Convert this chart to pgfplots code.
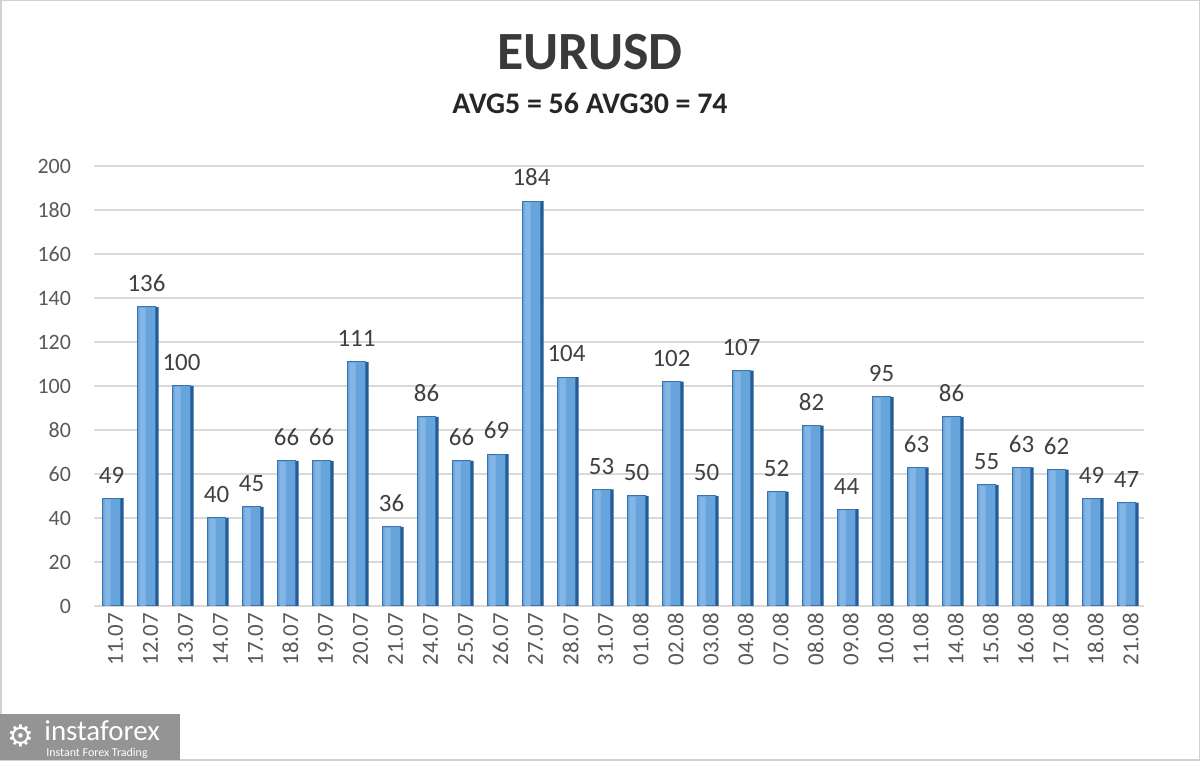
\documentclass[border=0pt]{standalone}
\usepackage{pgfplots}
\pgfplotsset{compat=1.18}
\usepackage{fontspec}
\setmainfont{Carlito}
\newfontfamily\dv{DejaVu Sans}
\definecolor{txt}{HTML}{595959}
\definecolor{lbl}{HTML}{404040}
\definecolor{gridc}{HTML}{D9D9D9}
\definecolor{barM}{HTML}{68A4DC}
\definecolor{barH}{HTML}{90BFEA}
\definecolor{barE}{HTML}{3A74B0}
\definecolor{barS}{HTML}{245C96}
\begin{document}
\begin{tikzpicture}
\begin{scope}[x=0.5bp,y=0.5bp]
\path[use as bounding box] (0,0) rectangle (1200,760);
\fill[white] (0,0) rectangle (1200,760);
\draw[black!18, line width=1bp] (0.5,0.5) rectangle (1199.5,759.5);
\node[font=\bfseries\fontsize{27}{30}\selectfont, text=lbl!90!black] at (590,708) {EURUSD};
\node[font=\bfseries\fontsize{15}{18}\selectfont, text=black!85] at (590,657) {AVG5 = 56 AVG30 = 74};
\end{scope}
\begin{axis}[
  at={(47bp,77bp)}, anchor=south west,
  width=525bp, height=220bp, scale only axis,
  xmin=-0.5, xmax=29.5, ymin=0, ymax=200,
  ytick={0,20,...,200},
  xtick={0,...,29},
  xticklabels={11.07,12.07,13.07,14.07,17.07,18.07,19.07,20.07,21.07,24.07,25.07,26.07,27.07,28.07,31.07,01.08,02.08,03.08,04.08,07.08,08.08,09.08,10.08,11.08,14.08,15.08,16.08,17.08,18.08,21.08},
  x tick label style={rotate=90, anchor=east, font=\fontsize{11.5}{13}\selectfont, text=txt, yshift=-2bp},
  y tick label style={font=\fontsize{11}{13}\selectfont, text=txt, xshift=-8bp},
  /pgf/number format/assume math mode=true,
  axis line style={draw=none},
  major tick length=0pt,
  ymajorgrids, grid style={gridc, line width=1bp},
  clip=false,
]
\addplot[ybar, bar width=1.6bp, bar shift=5.2bp, fill=barS, draw=none] coordinates {
(0,49)(1,136)(2,100)(3,40)(4,45)(5,66)(6,66)(7,111)(8,36)(9,86)(10,66)(11,69)(12,184)(13,104)(14,53)(15,50)(16,102)(17,50)(18,107)(19,52)(20,82)(21,44)(22,95)(23,63)(24,86)(25,55)(26,63)(27,62)(28,49)(29,47)};
\addplot[ybar, bar width=9bp, bar shift=0pt, fill=barM, draw=barE, line width=0.5bp,
  nodes near coords, every node near coord/.append style={font=\fontsize{12.5}{14}\selectfont, text=lbl, yshift=4bp},
  point meta=explicit symbolic] coordinates {
(0,49)[49](1,136)[136](2,100)[100](3,40)[40](4,45)[45](5,66)[66](6,66)[66](7,111)[111](8,36)[36](9,86)[86](10,66)[66](11,69)[69](12,184)[184](13,104)[104](14,53)[53](15,50)[50](16,102)[102](17,50)[50](18,107)[107](19,52)[52](20,82)[82](21,44)[44](22,95)[95](23,63)[63](24,86)[86](25,55)[55](26,63)[63](27,62)[62](28,49)[49](29,47)[47]};
\addplot[ybar, bar width=3bp, bar shift=-2bp, fill=barH, fill opacity=0.7, draw=none] coordinates {
(0,48.5)(1,135.5)(2,99.5)(3,39.5)(4,44.5)(5,65.5)(6,65.5)(7,110.5)(8,35.5)(9,85.5)(10,65.5)(11,68.5)(12,183.5)(13,103.5)(14,52.5)(15,49.5)(16,101.5)(17,49.5)(18,106.5)(19,51.5)(20,81.5)(21,43.5)(22,94.5)(23,62.5)(24,85.5)(25,54.5)(26,62.5)(27,61.5)(28,48.5)(29,46.5)};
\end{axis}
\begin{scope}[x=0.5bp,y=0.5bp]
\fill[black!42] (0,0) rectangle (180,46);
\node[anchor=base west, text=white, font=\fontsize{14.5}{16}\selectfont, inner sep=0pt] at (44,20) {instaforex};
\node[anchor=base west, text=white, font=\fontsize{6}{7}\selectfont, inner sep=0pt] at (46,4) {Instant Forex Trading};
\node[text=white, font=\dv\fontsize{15}{17}\selectfont, inner sep=0pt] at (21,24) {⚙};
\end{scope}
\end{tikzpicture}
\end{document}
